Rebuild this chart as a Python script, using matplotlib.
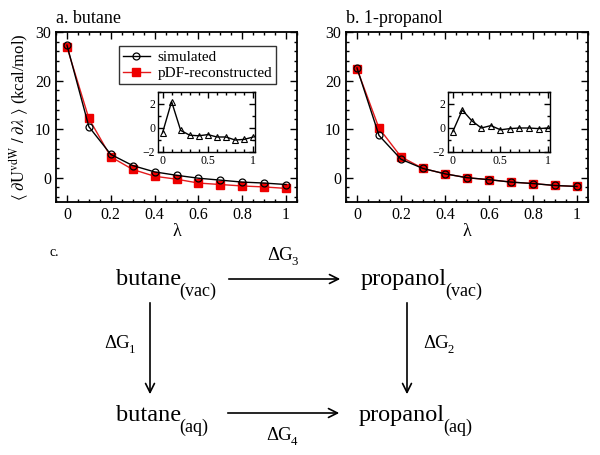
import numpy as np
import matplotlib
matplotlib.use("Agg")
import matplotlib.pyplot as plt
from matplotlib.ticker import MultipleLocator, FuncFormatter

plt.rcParams['font.family'] = ['Liberation Serif', 'DejaVu Serif']
plt.rcParams['mathtext.fontset'] = 'stix'

lam = [0.0, 0.1, 0.2, 0.3, 0.4, 0.5, 0.6, 0.7, 0.8, 0.9, 1.0]
butane_sim = [27.3, 10.5, 4.8, 2.5, 1.2, 0.5, -0.1, -0.5, -0.9, -1.1, -1.4]
butane_pdf = [26.9, 12.2, 4.3, 1.7, 0.3, -0.3, -1.1, -1.4, -1.7, -1.9, -2.2]
butane_diff = [-0.4, 2.2, -0.2, -0.6, -0.65, -0.55, -0.75, -0.75, -1.0, -0.95, -0.75]
prop_sim = [22.6, 8.7, 3.8, 1.9, 0.8, 0.0, -0.4, -0.9, -1.2, -1.6, -1.8]
prop_pdf = [22.4, 10.2, 4.3, 1.9, 0.8, 0.0, -0.4, -0.9, -1.2, -1.6, -1.8]
prop_diff = [-0.3, 1.5, 0.6, 0.0, 0.2, -0.15, -0.05, 0.0, 0.0, -0.05, 0.0]

W, H = 600, 455
fig = plt.figure(figsize=(6, 4.55), dpi=100)

def rect(x0, y0, x1, y1):
    return [x0 / W, 1 - y1 / H, (x1 - x0) / W, (y1 - y0) / H]

def fmt(v, p):
    return '%g' % v

def style(ax, xmaj, xmin, ymaj, ymin, size=10):
    ax.xaxis.set_major_locator(MultipleLocator(xmaj))
    ax.xaxis.set_minor_locator(MultipleLocator(xmin))
    ax.yaxis.set_major_locator(MultipleLocator(ymaj))
    ax.yaxis.set_minor_locator(MultipleLocator(ymin))
    ax.xaxis.set_major_formatter(FuncFormatter(fmt))
    ax.tick_params(which='both', direction='in', top=True, right=True, labelsize=size, width=1.0)
    ax.tick_params(which='major', length=5)
    ax.tick_params(which='minor', length=2.5)
    for s in ax.spines.values():
        s.set_linewidth(1.3)

def main_panel(rc, sim, pdf, title, ylabel):
    ax = fig.add_axes(rect(*rc))
    ax.plot(lam, sim, '-', color='black', lw=1.0, marker='o', ms=5, mfc='none', mec='black', mew=0.9,
            label='simulated', zorder=3)
    ax.plot(lam, pdf, '-', color='#e41a1c', lw=1.0, marker='s', ms=5.5, mfc='#ee0000', mec='#ee0000',
            label='pDF-reconstructed', zorder=2)
    ax.set_xlim(-0.05, 1.05)
    ax.set_ylim(-5, 30)
    style(ax, 0.2, 0.05, 10, 2, size=11.5)
    ax.set_xlabel('λ', fontsize=13, labelpad=0)
    if ylabel:
        ax.set_ylabel(r'$\langle\ \partial\mathrm{U}^{\mathrm{vdW}}\ /\ \partial\lambda\ \rangle$ (kcal/mol)',
                      fontsize=12, labelpad=3)
    ax.text(0.0, 1.03, title, transform=ax.transAxes, fontsize=13, ha='left', va='bottom')
    return ax

def inset(rc, diff):
    ax = fig.add_axes(rect(*rc))
    ax.plot(lam, diff, '-', color='black', lw=1.0, marker='^', ms=5, mfc='none', mec='black', mew=0.8)
    ax.set_xlim(-0.05, 1.02)
    ax.set_ylim(-2, 3)
    style(ax, 0.5, 0.1, 2, 1, size=8.5)
    ax.tick_params(which='major', length=4, pad=2)
    ax.tick_params(which='minor', length=2)
    for s in ax.spines.values():
        s.set_linewidth(1.0)
    return ax

axa = main_panel((56, 32, 297, 202), butane_sim, butane_pdf, 'a. butane', True)
leg = axa.legend(loc='upper right', fontsize=11, frameon=True, fancybox=False, edgecolor='black',
                 borderpad=0.25, handlelength=1.8, labelspacing=0.15, handletextpad=0.5,
                 bbox_to_anchor=(0.945, 0.96))
leg.get_frame().set_linewidth(1.0)
inset((158, 92, 255, 152), butane_diff)

axb = main_panel((346, 32, 588, 202), prop_sim, prop_pdf, 'b. 1-propanol', False)
inset((448, 92, 550, 152), prop_diff)

# Diagram panel c
axc = fig.add_axes([0, 0, 1, 1], zorder=-1)
axc.set_xlim(0, W)
axc.set_ylim(H, 0)
axc.axis('off')
renderer = fig.canvas.get_renderer()

def species(x, y, word, subtxt, big=17.5, small=13, drop=11):
    t = axc.text(x, y, word, fontsize=big, ha='left', va='baseline')
    bb = t.get_window_extent(renderer=renderer)
    axc.text(bb.x1 - 1.5, y + drop, subtxt, fontsize=small, ha='left', va='baseline')

def dg(x, y, idx, size=13.5):
    t = axc.text(x, y, 'ΔG', fontsize=size, ha='left', va='baseline')
    bb = t.get_window_extent(renderer=renderer)
    axc.text(bb.x1 - 1.0, y + 5, idx, fontsize=size * 0.68, ha='left', va='baseline')

axc.text(50, 253, 'c.', fontsize=10, ha='left', va='center')
species(116, 285, 'butane', '(vac)')
species(361, 285, 'propanol', '(vac)')
species(116, 421, 'butane', '(aq)')
species(359, 421, 'propanol', '(aq)')

arrow = dict(arrowstyle='->', lw=1.2, color='black', mutation_scale=16)
axc.annotate('', xy=(343, 279), xytext=(226, 279), arrowprops=arrow)
axc.annotate('', xy=(342, 413), xytext=(225, 413), arrowprops=arrow)
axc.annotate('', xy=(150, 397), xytext=(150, 300), arrowprops=arrow)
axc.annotate('', xy=(407, 397), xytext=(407, 300), arrowprops=arrow)

dg(267, 260, '3')
dg(266, 440, '4')
dg(104, 348, '1')
dg(423, 348, '2')

fig.savefig('out.png', dpi=100)
